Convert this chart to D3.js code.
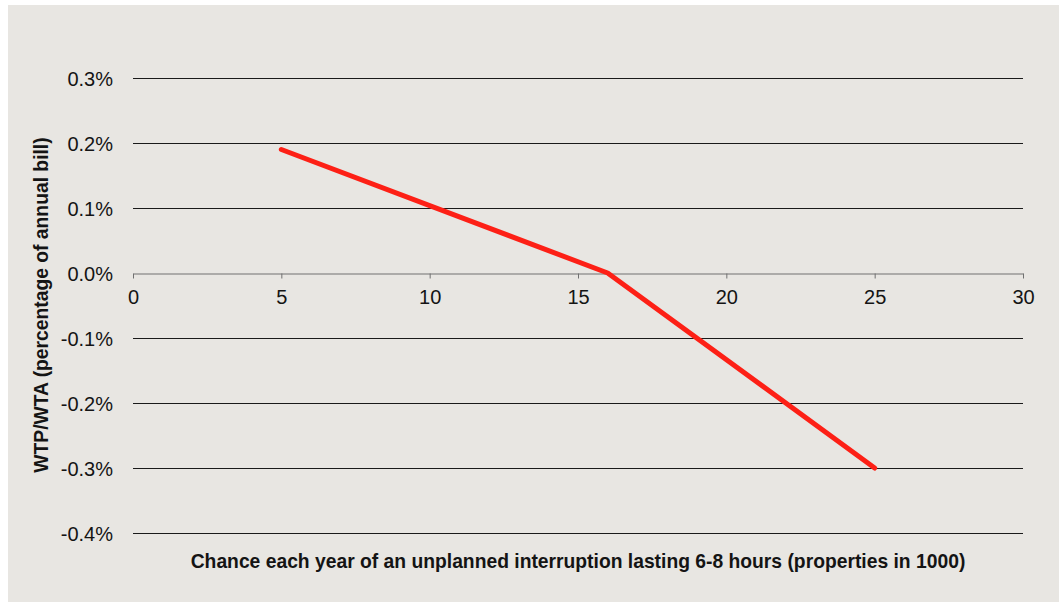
<!DOCTYPE html>
<html><head><meta charset="utf-8">
<script src="https://cdn.jsdelivr.net/npm/d3@7"></script>
<style>
html,body{margin:0;padding:0;background:#fff;}
svg{display:block;}
text{font-family:"Liberation Sans","Arial",sans-serif;fill:#141414;}
</style></head><body>
<svg id="c" width="1059" height="602"></svg>
<script>
const xValues = [5, 16, 25];
const yValues = [0.19, 0.0, -0.30];
const xTicks = [0, 5, 10, 15, 20, 25, 30];
const yTicks = [0.3, 0.2, 0.1, 0.0, -0.1, -0.2, -0.3, -0.4];
const xTitle = "Chance each year of an unplanned interruption lasting 6-8 hours (properties in 1000)";
const yTitle = "WTP/WTA (percentage of annual bill)";

const svg = d3.select("#c");
svg.append("rect").attr("x",8).attr("y",5).attr("width",1051).attr("height",597).attr("fill","#e8e6e2");

const x = d3.scaleLinear().domain([0,30]).range([133,1023]);
const y = d3.scaleLinear().domain([-0.4,0.3]).range([533,78]);
const fmtY = d => d3.format(".1f")(d).replace("\u2212","-") + "%";

// gridlines
svg.append("g").selectAll("line").data(yTicks.filter(d=>Math.abs(d)>1e-9)).join("line")
  .attr("x1",133).attr("x2",1023)
  .attr("y1",d=>Math.round(y(d))+0.5).attr("y2",d=>Math.round(y(d))+0.5)
  .attr("stroke","#1a1a1a").attr("stroke-width",1);

// y labels
svg.append("g").selectAll("text").data(yTicks).join("text")
  .attr("x",113).attr("y",d=>y(d)).attr("dy","0.4em")
  .attr("text-anchor","end").attr("font-size",20)
  .text(fmtY);

// x axis at zero
const xAxis = d3.axisBottom(x).tickValues(xTicks).tickSize(5).tickSizeOuter(0).tickPadding(11);
const gx = svg.append("g").attr("transform",`translate(0,${Math.round(y(0))+0.5})`).call(xAxis);
gx.select(".domain").attr("stroke","#707070");
gx.selectAll(".tick line").attr("stroke","#707070");
gx.selectAll(".tick text").attr("font-size",20).attr("fill","#141414").attr("font-family","Liberation Sans, Arial, sans-serif");

// line
const line = d3.line().x((d,i)=>x(xValues[i])).y(d=>y(d));
svg.append("path").datum(yValues).attr("d",line)
  .attr("fill","none").attr("stroke","#fd2016").attr("stroke-width",5)
  .attr("stroke-linecap","round").attr("stroke-linejoin","round");

svg.append("text").attr("x",578).attr("y",568).attr("text-anchor","middle")
  .attr("font-size",19.3).attr("font-weight","bold").text(xTitle);
svg.append("text").attr("transform","translate(48,305) rotate(-90)").attr("text-anchor","middle")
  .attr("font-size",19.3).attr("font-weight","bold").text(yTitle);
</script></body></html>
